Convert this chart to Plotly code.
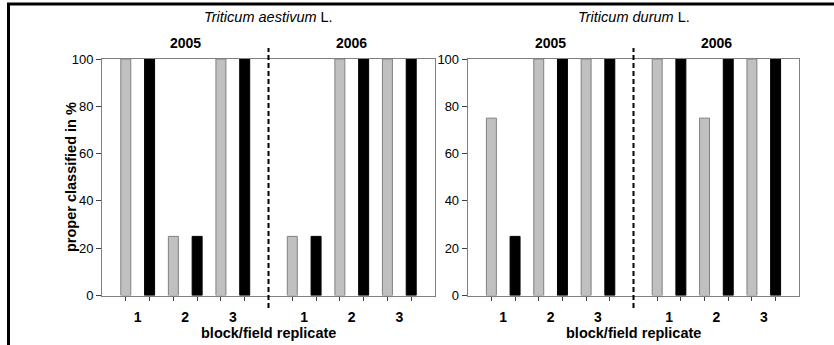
import plotly.graph_objects as go

# data
years = ["2005", "2006"]
replicates = ["1", "2", "3"]
species = ["aestivum", "durum"]
aestivum_gray = [100, 25, 100, 25, 100, 100]
aestivum_black = [100, 25, 100, 25, 100, 100]
durum_gray = [75, 100, 100, 100, 75, 100]
durum_black = [25, 100, 100, 100, 100, 100]
y_ticks = [0, 20, 40, 60, 80, 100]

W, H = 834, 345
FONT = "Arial, Liberation Sans, sans-serif"
AXCOL = "#808080"

# category centres: 2 slots per replicate, one empty slot between years
cat_x = [1.5 + 7 * j + 2 * r for j in range(len(years)) for r in range(len(replicates))]
cat_lab = [r for j in years for r in replicates]
bar_x = [c - 0.5 for c in cat_x] + [c + 0.5 for c in cat_x]
bw = 0.42

fig = go.Figure()

panels = [
    ("x", "y", aestivum_gray, aestivum_black),
    ("x2", "y2", durum_gray, durum_black),
]
for xa, ya, g, b in panels:
    fig.add_trace(go.Bar(x=cat_x, y=g, xaxis=xa, yaxis=ya, width=bw, offset=-0.5 - bw / 2,
                         marker=dict(color="#c0c0c0", line=dict(color="#808080", width=1)),
                         showlegend=False))
    fig.add_trace(go.Bar(x=cat_x, y=b, xaxis=xa, yaxis=ya, width=bw, offset=0.5 - bw / 2,
                         marker=dict(color="#000000", line=dict(color="#000000", width=1)),
                         showlegend=False))

def px(v):
    return v / W

def py(v):
    return 1 - v / H

ydom = [py(295.5), py(59)]
xdoms = [[px(102), px(435)], [px(467.7), px(799.3)]]

xcommon = dict(range=[0, 14], tickvals=cat_x, ticktext=cat_lab, ticks="", showgrid=False,
               zeroline=False, showline=True, linecolor=AXCOL, linewidth=1, mirror=True,
               automargin=False, ticklabelstandoff=9,
               tickfont=dict(family=FONT, size=14, color="black", weight="bold"),
               minor=dict(tickmode="array", tickvals=bar_x, ticks="outside", ticklen=4,
                          tickcolor="#404040", showgrid=False))
ycommon = dict(range=[0, 100], tickvals=y_ticks, ticks="outside", ticklen=5, tickcolor="#404040",
               showgrid=False, zeroline=False, showline=True, linecolor=AXCOL, linewidth=1,
               mirror=True, automargin=False,
               tickfont=dict(family=FONT, size=13, color="black"), domain=ydom)

fig.update_layout(
    width=W, height=H, margin=dict(l=0, r=0, t=0, b=0, autoexpand=False),
    paper_bgcolor="white", plot_bgcolor="white", barmode="overlay",
    xaxis=dict(xcommon, domain=xdoms[0], anchor="y"),
    yaxis=dict(ycommon, anchor="x"),
    xaxis2=dict(xcommon, domain=xdoms[1], anchor="y2"),
    yaxis2=dict(ycommon, anchor="x2"),
)

ann = []
titles = [("<i>Triticum aestivum</i> L.", 268.5), ("<i>Triticum durum</i> L.", 633.5)]
for (t, cx), xr, dom in zip(titles, ["x", "x2"], xdoms):
    ann.append(dict(text=t, x=cx / W, y=py(17), xref="paper", yref="paper", showarrow=False,
                    xanchor="center", yanchor="middle",
                    font=dict(family=FONT, size=14.5, color="black")))
    for j, yr in enumerate(years):
        ann.append(dict(text="<b>%s</b>" % yr, x=3.5 + 7 * j, y=py(43), xref=xr, yref="paper",
                        showarrow=False, xanchor="center", yanchor="middle",
                        font=dict(family=FONT, size=14, color="black")))
    ann.append(dict(text="<b>block/field replicate</b>", x=(dom[0] + dom[1]) / 2, y=py(333),
                    xref="paper", yref="paper", showarrow=False,
                    xanchor="center", yanchor="middle",
                    font=dict(family=FONT, size=14.5, color="black")))
    fig.add_shape(type="line", xref=xr, yref="paper", x0=7, x1=7, y0=py(308), y1=py(48),
                  line=dict(color="black", width=2, dash="5px,3px"))

ann.append(dict(text="<b>proper classified in %</b>", x=px(71), y=py(177), xref="paper",
                yref="paper", showarrow=False, textangle=-90, xanchor="center", yanchor="middle",
                font=dict(family=FONT, size=14.5, color="black")))
fig.update_layout(annotations=ann)

# outer frame (top and left only visible)
fig.add_shape(type="line", xref="paper", yref="paper", x0=px(8.5), x1=px(8.5), y0=0, y1=py(3),
              line=dict(color="black", width=3))
fig.add_shape(type="line", xref="paper", yref="paper", x0=px(7), x1=1, y0=py(4), y1=py(4),
              line=dict(color="black", width=3))

fig.write_html("out.html", config={"displayModeBar": False},
               post_script="document.body.style.margin='0';")
